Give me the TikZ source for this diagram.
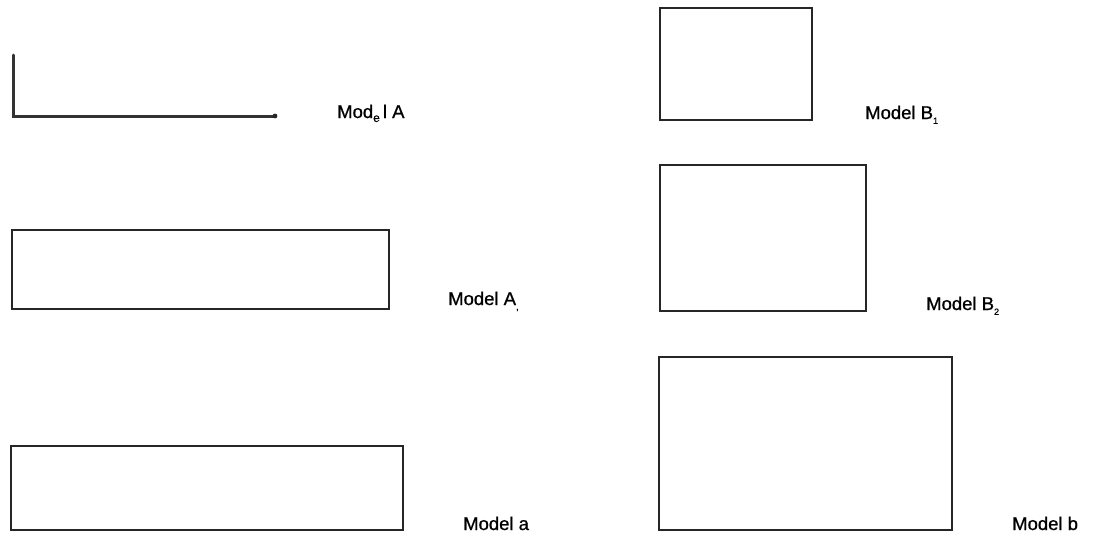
\documentclass[tikz,border=0pt]{standalone}
\usepackage{fontspec}
\setmainfont{Liberation Sans}
\newfontfamily\labelfont{Liberation Sans}[FakeBold=0.8]
\usepackage{tikz}
\usetikzlibrary{positioning}

\tikzset{
  modelbox/.style={draw=black!85, line width=1.6pt, inner sep=0pt, outer sep=0pt, anchor=north west},
  modellabel/.style={anchor=base west, inner sep=0pt, font=\labelfont\fontsize{18.5}{20}\selectfont}
}

\begin{document}
\begin{tikzpicture}[x=1pt,y=-1pt]
  \useasboundingbox (0,0) rectangle (1097,541);
  % LEFT COLUMN
  % Model A (L shape)
  \coordinate (Atop) at (13,55);
  \coordinate (Acorner) at (13,116);
  \coordinate (Aend) at (275,116);
  \draw[line width=3pt, draw=black!80, line cap=round] (Atop) -- (Acorner) -- (Aend);
  \fill[black!85] (Aend) circle (2.4pt);
  \node[modellabel] (labA) at (337,118) {Mod\raisebox{-0.4ex}{\fontsize{12}{13}\selectfont e}\,l A};
  % Model A1
  \node[modelbox, minimum width=377pt, minimum height=79pt] (A1) at (12,230) {};
  \node[modellabel] (labA1) at (448,305) {Model A\raisebox{-0.5ex}{\fontsize{10}{11}\selectfont ,}};
  % Model a
  \node[modelbox, minimum width=392pt, minimum height=84pt] (a) at (11,446) {};
  \node[modellabel] (laba) at (463,530) {Model a};
  % RIGHT COLUMN
  % Model B1
  \node[modelbox, minimum width=152pt, minimum height=112pt] (B1) at (660,8) {};
  \node[modellabel] (labB1) at (865,119) {Model B\raisebox{-0.5ex}{\fontsize{9}{10}\selectfont 1}};
  % Model B2
  \node[modelbox, minimum width=206pt, minimum height=146pt] (B2) at (660,165) {};
  \node[modellabel] (labB2) at (926,310) {Model B\raisebox{-0.5ex}{\fontsize{9}{10}\selectfont 2}};
  % Model b
  \node[modelbox, minimum width=293pt, minimum height=173pt] (b) at (659,357) {};
  \node[modellabel] (labb) at (1012,530) {Model b};
\end{tikzpicture}
\end{document}
